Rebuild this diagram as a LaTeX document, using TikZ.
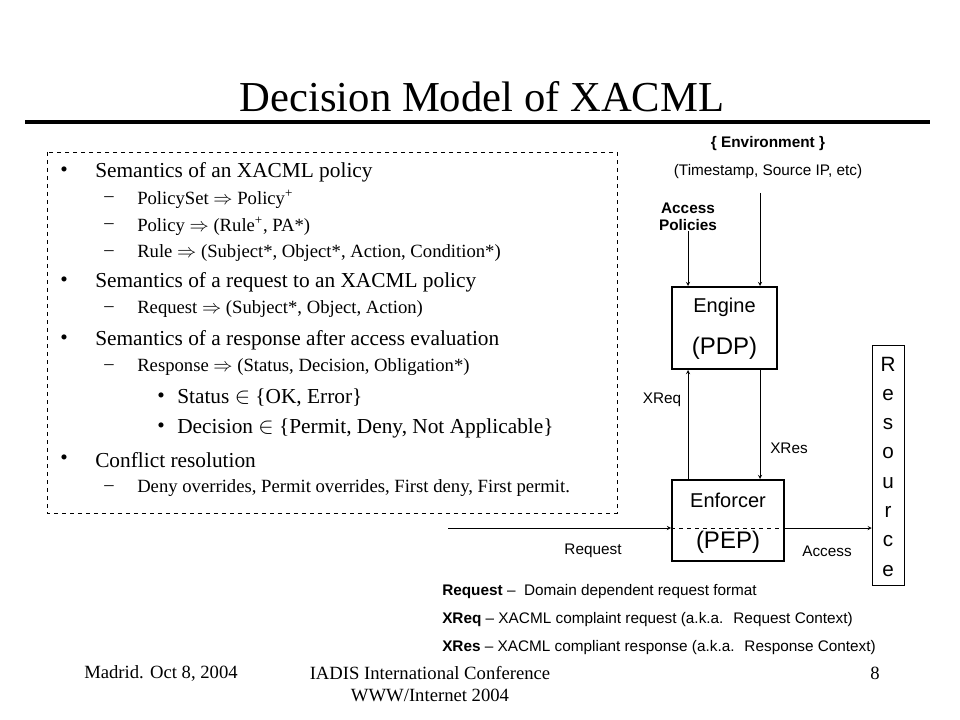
\documentclass[tikz,border=0pt]{standalone}
\usepackage{fontspec}
\setmainfont{Liberation Serif}
\newfontfamily\arialfont{Liberation Sans}
\usetikzlibrary{arrows}

\tikzset{
    item/.style={anchor=west, inner sep=0pt, font=\fontsize{16}{19}\selectfont},
    subitem/.style={anchor=west, inner sep=0pt, font=\fontsize{14}{16}\selectfont},
    subsubitem/.style={anchor=west, inner sep=0pt, font=\fontsize{16}{19}\selectfont},
    box/.style={draw, rectangle, line width=1.5pt, inner sep=0pt},
    lbl/.style={inner sep=0pt, font=\arialfont\fontsize{11.5}{13}\selectfont},
    boxlbl/.style={inner sep=0pt, font=\arialfont\fontsize{15}{17}\selectfont},
    foot/.style={inner sep=0pt, font=\fontsize{14}{16}\selectfont}
}

\begin{document}
\begin{tikzpicture}[x=0.75pt, y=-0.75pt]
    \useasboundingbox (0,0) rectangle (960,720);

    % title
    \node[inner sep=0pt, font=\fontsize{32}{36}\selectfont] (title) at (482,97) {Decision Model of XACML};
    \draw[line width=2.5pt] (25,122) -- (930,122);

    % semantics list
    \draw[dashed] (47,152) rectangle (617,513);
    \node[item] (b1) at (60,172) {•};
    \node[item] (t1) at (95,172) {Semantics of an XACML policy};
    \node[subitem] (d1) at (104,199) {–};
    \node[subitem] (s1) at (137,199) {PolicySet $\Rightarrow$ Policy\textsuperscript{+}};
    \node[subitem] (d2) at (104,226) {–};
    \node[subitem] (s2) at (137,226) {Policy $\Rightarrow$ (Rule\textsuperscript{+}, PA*)};
    \node[subitem] (d3) at (104,253) {–};
    \node[subitem] (s3) at (137,253) {Rule $\Rightarrow$ (Subject*, Object*, Action, Condition*)};
    \node[item] (b2) at (60,282) {•};
    \node[item] (t2) at (95,282) {Semantics of a request to an XACML policy};
    \node[subitem] (d4) at (104,309) {–};
    \node[subitem] (s4) at (137,309) {Request $\Rightarrow$ (Subject*, Object, Action)};
    \node[item] (b3) at (60,340) {•};
    \node[item] (t3) at (95,340) {Semantics of a response after access evaluation};
    \node[subitem] (d5) at (104,367) {–};
    \node[subitem] (s5) at (137,367) {Response $\Rightarrow$ (Status, Decision, Obligation*)};
    \node[subsubitem] (e1) at (157,398) {•};
    \node[subsubitem] (u1) at (177,398) {Status $\in$ \{OK, Error\}};
    \node[subsubitem] (e2) at (157,428) {•};
    \node[subsubitem] (u2) at (177,428) {Decision $\in$ \{Permit, Deny, Not Applicable\}};
    \node[item] (b4) at (60,460) {•};
    \node[item] (t4) at (95,460) {Conflict resolution};
    \node[subitem] (d6) at (104,488) {–};
    \node[subitem] (s6) at (137,488) {Deny overrides, Permit overrides, First deny, First permit.};

    % engine and enforcer
    \node[lbl, font=\arialfont\bfseries\fontsize{11.5}{13}\selectfont] (env) at (768,144) {\{ Environment \}};
    \node[lbl] (envx) at (768,172) {(Timestamp, Source IP, etc)};
    \node[lbl, font=\arialfont\bfseries\fontsize{11.5}{13}\selectfont, align=center] (pol) at (688,217) {Access\\Policies};
    \coordinate (envout) at (760,193);

    \node[box, minimum width=78.75pt, minimum height=61.5pt] (pdp) at (724.5,328) {};
    \node[boxlbl] (pdpa) at (724.5,307) {Engine};
    \node[boxlbl, font=\arialfont\fontsize{18}{20}\selectfont] (pdpb) at (724.5,348) {(PDP)};

    \node[box, minimum width=84pt, minimum height=60.75pt] (pep) at (728,520.5) {};
    \node[boxlbl] (pepa) at (728,500) {Enforcer};
    \node[boxlbl, font=\arialfont\fontsize{18}{20}\selectfont] (pepb) at (728,542) {(PEP)};

    \node[draw, rectangle, minimum width=24pt, minimum height=180pt, inner sep=0pt] (res) at (888,465) {};
    \foreach \ch [count=\i from 0] in {R,e,s,o,u,r,c,e}
        \node[inner sep=0pt, font=\arialfont\fontsize{15.5}{17}\selectfont, anchor=base] (res\i) at (888,371+29.3*\i) {\ch};

    \coordinate (xreq) at (688,0);
    \coordinate (xres) at (760,0);
    \coordinate (req) at (448,528);

    \draw[-stealth] (pol.south) -- (pol.south |- pdp.north);
    \draw[-stealth] (envout) -- (envout |- pdp.north);
    \draw[-stealth] (pep.north -| xreq) -- (pdp.south -| xreq);
    \draw[-stealth] (pdp.south -| xres) -- (pep.north -| xres);
    \draw[-stealth] (req) -- (req -| pep.west);
    \draw[dashed] (req -| pep.west) -- (req -| pep.east);
    \draw[-stealth] (req -| pep.east) -- (req -| res.west);

    \node[lbl] (lxreq) at (662,400) {XReq};
    \node[lbl] (lxres) at (789,448) {XRes};
    \node[lbl] (lreq) at (593,551) {Request};
    \node[lbl] (lacc) at (827,551) {Access};

    % legend
    \node[lbl, anchor=west] (g1) at (442,592) {\textbf{Request} – \ Domain dependent request format};
    \node[lbl, anchor=west] (g2) at (442,620) {\textbf{XReq} – XACML complaint request (a.k.a. \ Request Context)};
    \node[lbl, anchor=west] (g3) at (442,648) {\textbf{XRes} – XACML compliant response (a.k.a. \ Response Context)};

    % footer
    \node[foot] (f1) at (161,673) {Madrid. Oct 8, 2004};
    \node[foot, align=center] (f2) at (430,684) {IADIS International Conference\\WWW/Internet 2004};
    \node[foot] (f3) at (875,673) {8};
\end{tikzpicture}
\end{document}
